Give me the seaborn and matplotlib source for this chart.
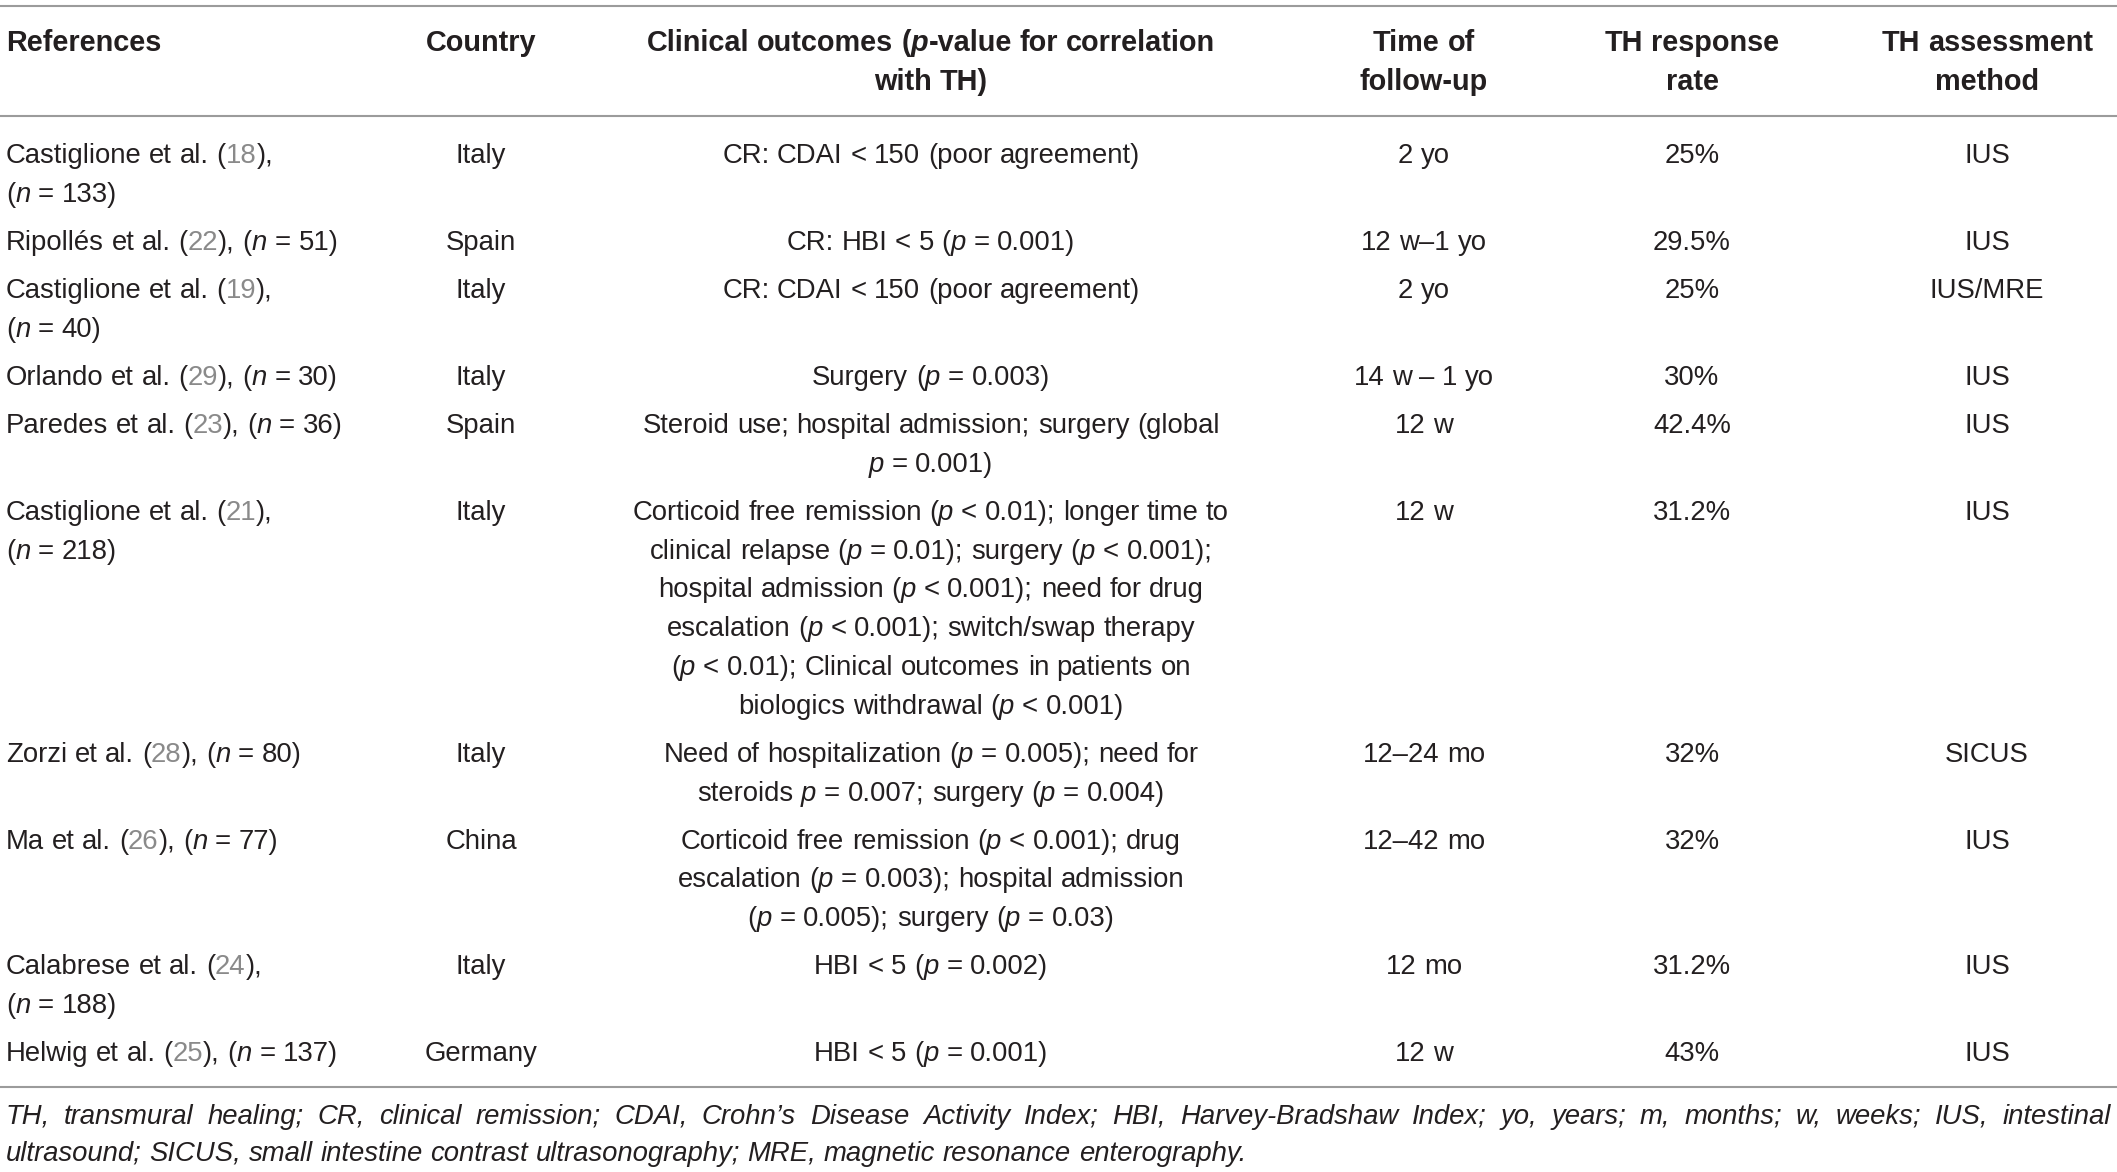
import re
import numpy as np
import pandas as pd
import seaborn as sns
import matplotlib
matplotlib.use("Agg")
import matplotlib.pyplot as plt

# Данные таблицы: *...* - курсив, {...} - серый номер ссылки
references = [
    "Castiglione et al. ({18}),\n(*n* = 133)",
    "Ripollés et al. ({22}), (*n* = 51)",
    "Castiglione et al. ({19}),\n(*n* = 40)",
    "Orlando et al. ({29}), (*n* = 30)",
    "Paredes et al. ({23}), (*n* = 36)",
    "Castiglione et al. ({21}),\n(*n* = 218)",
    "Zorzi et al. ({28}), (*n* = 80)",
    "Ma et al. ({26}), (*n* = 77)",
    "Calabrese et al. ({24}),\n(*n* = 188)",
    "Helwig et al. ({25}), (*n* = 137)",
]
countries = ["Italy", "Spain", "Italy", "Italy", "Spain", "Italy", "Italy", "China", "Italy", "Germany"]
outcomes = [
    "CR: CDAI < 150 (poor agreement)",
    "CR: HBI < 5 (*p* = 0.001)",
    "CR: CDAI < 150 (poor agreement)",
    "Surgery (*p* = 0.003)",
    "Steroid use; hospital admission; surgery (global\n*p* = 0.001)",
    "Corticoid free remission (*p* < 0.01); longer time to\n"
    "clinical relapse (*p* = 0.01); surgery (*p* < 0.001);\n"
    "hospital admission (*p* < 0.001); need for drug\n"
    "escalation (*p* < 0.001); switch/swap therapy\n"
    "(*p* < 0.01); Clinical outcomes in patients on\n"
    "biologics withdrawal (*p* < 0.001)",
    "Need of hospitalization (*p* = 0.005); need for\nsteroids *p* = 0.007; surgery (*p* = 0.004)",
    "Corticoid free remission (*p* < 0.001); drug\nescalation (*p* = 0.003); hospital admission\n"
    "(*p* = 0.005); surgery (*p* = 0.03)",
    "HBI < 5 (*p* = 0.002)",
    "HBI < 5 (*p* = 0.001)",
]
follow_up = ["2 yo", "12 w–1 yo", "2 yo", "14 w – 1 yo", "12 w", "12 w", "12–24 mo", "12–42 mo", "12 mo", "12 w"]
th_rates = [25, 29.5, 25, 30, 42.4, 31.2, 32, 32, 31.2, 43]
methods = ["IUS", "IUS", "IUS/MRE", "IUS", "IUS", "IUS", "SICUS", "IUS", "IUS", "IUS"]

headers = ["References", "Country", "Clinical outcomes (*p*-value for correlation\nwith TH)",
           "Time of\nfollow-up", "TH response\nrate", "TH assessment\nmethod"]
footnote = [
    "TH, transmural healing; CR, clinical remission; CDAI, Crohn’s Disease Activity Index; "
    "HBI, Harvey-Bradshaw Index; yo, years; m, months; w, weeks; IUS, intestinal",
    "ultrasound; SICUS, small intestine contrast ultrasonography; MRE, magnetic resonance enterography.",
]

df = pd.DataFrame({
    "ref": references, "country": countries, "outcome": outcomes,
    "follow": follow_up, "rate": [f"{r:g}%" for r in th_rates], "method": methods,
})

sns.set_theme(style="white")
plt.rcParams["font.family"] = ["Liberation Sans", "DejaVu Sans"]

INK = "#231f20"
GREY = "#8a8a8a"
RULE = "#9b9b9b"
W, H = 2117, 1172
BODY = 19.8
HEAD = 20.8

fig = plt.figure(figsize=(W / 100, H / 100), dpi=100)
ax = fig.add_axes([0, 0, 1, 1])
ax.set_xlim(0, W)
ax.set_ylim(H, 0)
ax.axis("off")
renderer = fig.canvas.get_renderer()

_cache = {}


def tok_width(s, size, weight, style):
    key = (s, size, weight, style)
    if key not in _cache:
        a = ax.text(0, 0, "|" + s + "|", fontsize=size, fontweight=weight, fontstyle=style)
        b = ax.text(0, 0, "||", fontsize=size, fontweight=weight, fontstyle=style)
        _cache[key] = a.get_window_extent(renderer).width - b.get_window_extent(renderer).width
        a.remove()
        b.remove()
    return _cache[key]


def tokens(line, italic_all=False):
    out = []
    for part in re.split(r"(\*[^*]+\*|\{[^}]+\})", line):
        if not part:
            continue
        style, color = ("italic" if italic_all else "normal"), INK
        if part.startswith("*"):
            part, style = part[1:-1], "italic"
        elif part.startswith("{"):
            part, color = part[1:-1], GREY
        for t in re.split(r"( )", part):
            if t:
                out.append((t, style, color))
    return out


def draw_line(x, yc, line, ha="left", size=BODY, weight="normal", italic_all=False, justify_to=None):
    toks = tokens(line, italic_all)
    widths = [tok_width(t, size, weight, s) for t, s, _ in toks]
    total = sum(widths)
    extra = 0
    if justify_to is not None:
        n_sp = sum(1 for t, _, _ in toks if t == " ")
        extra = (justify_to - x - total) / max(n_sp, 1)
    cx = x - total / 2 if ha == "center" else x
    base = yc + size * 100 / 72 * 0.36
    for (t, s, c), w in zip(toks, widths):
        if t != " ":
            ax.text(cx, base, t, fontsize=size, fontweight=weight, fontstyle=s,
                    color=c, va="baseline", ha="left")
        else:
            cx += extra
        cx += w


col_x = [6, 481, 931, 1424, 1692, 1987]
col_ha = ["left", "center", "center", "center", "center", "center"]
LINE = 38.75
GAP = 9.4

# линии таблицы
for y in [6, 116, 1087]:
    ax.axhline(y, color=RULE, lw=1.5)

# шапка
for hx, ha, h in zip(col_x, col_ha, headers):
    for k, ln in enumerate(h.split("\n")):
        draw_line(hx, 41 + k * LINE, ln, ha=ha, size=HEAD, weight="bold")

# строки
y = 153
for _, row in df.iterrows():
    cells = [row["ref"], row["country"], row["outcome"], row["follow"], row["rate"], row["method"]]
    n = max(c.count("\n") + 1 for c in cells)
    for cxp, ha, cell in zip(col_x, col_ha, cells):
        for k, ln in enumerate(cell.split("\n")):
            draw_line(cxp, y + k * LINE, ln, ha=ha)
    y += n * LINE + GAP

# примечание
draw_line(6, 1114, footnote[0], italic_all=True, justify_to=2111)
draw_line(6, 1151, footnote[1], italic_all=True)

fig.savefig("out.png", dpi=100, facecolor="white")
